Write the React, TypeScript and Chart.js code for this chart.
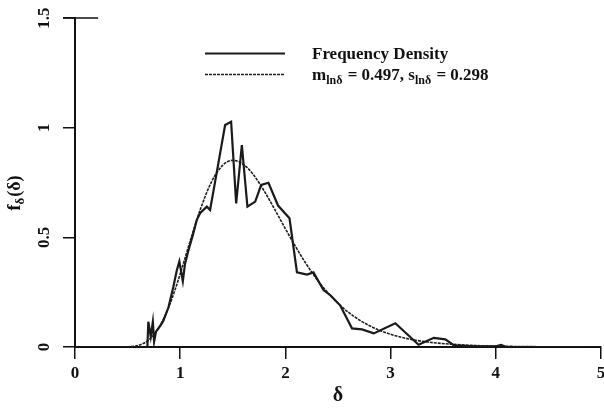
import React, { useEffect, useRef } from "react";
import { Chart, registerables } from "chart.js";

Chart.register(...registerables);

// Observed frequency density (solid line)
const freqX = [0.688, 0.697, 0.72, 0.74, 0.752, 0.77, 0.815, 0.84, 0.888, 0.935, 0.968, 0.992, 1.025, 1.046, 1.078, 1.12, 1.158, 1.189, 1.253, 1.284, 1.332, 1.427, 1.484, 1.532, 1.586, 1.639, 1.713, 1.77, 1.839, 1.93, 2.039, 2.11, 2.205, 2.267, 2.362, 2.43, 2.52, 2.633, 2.728, 2.84, 3.045, 3.266, 3.41, 3.52, 3.6, 3.8, 4.0, 4.05, 4.1];
const freqY = [0, 0.115, 0.047, 0.115, 0.024, 0.07, 0.1, 0.12, 0.18, 0.275, 0.35, 0.39, 0.3, 0.38, 0.44, 0.51, 0.58, 0.61, 0.64, 0.625, 0.754, 1.012, 1.027, 0.655, 0.921, 0.64, 0.663, 0.739, 0.749, 0.645, 0.587, 0.34, 0.33, 0.34, 0.26, 0.235, 0.19, 0.085, 0.08, 0.062, 0.108, 0.01, 0.042, 0.035, 0.008, 0.003, 0.003, 0.01, 0];

// Fitted lognormal curve (dotted line)
const fitX = [0, 0.4, 0.5, 0.6, 0.7, 0.8, 0.9, 1.0, 1.1, 1.2, 1.3, 1.4, 1.5, 1.6, 1.7, 1.8, 1.9, 2.0, 2.1, 2.2, 2.3, 2.4, 2.5, 2.6, 2.7, 2.8, 2.9, 3.0, 3.2, 3.4, 3.6, 3.8, 4.0, 4.5, 5.0];
const fitY = [0, 0, 0.001, 0.007, 0.032, 0.09, 0.193, 0.333, 0.491, 0.639, 0.755, 0.827, 0.851, 0.833, 0.783, 0.71, 0.626, 0.539, 0.455, 0.377, 0.308, 0.249, 0.199, 0.158, 0.124, 0.097, 0.075, 0.058, 0.034, 0.02, 0.012, 0.007, 0.004, 0.001, 0.0002];

const xTickValues = [0, 1, 2, 3, 4, 5];
const yTickValues = [0, 0.5, 1, 1.5];
const yTickLabels = ["0", "0.5", "1", "1.5"];

const legendMain = "Frequency Density";
const legendFitParts = ["m", "lnδ", " = 0.497, s", "lnδ", " = 0.298"];
const yTitleParts = ["f", "δ", "(δ)"];
const xTitle = "δ";

const SERIF = '"Liberation Serif", "Times New Roman", serif';

function drawSubText(ctx: CanvasRenderingContext2D, parts: string[], x: number, y: number, big: string, small: string, drop: number) {
  let cx = x;
  parts.forEach((p, i) => {
    const isSub = i % 2 === 1;
    ctx.font = isSub ? small : big;
    ctx.fillText(p, cx, isSub ? y + drop : y);
    cx += ctx.measureText(p).width + (isSub ? 1 : 0);
  });
}

const decorPlugin = {
  id: "decor",
  afterDraw(chart: any) {
    const ctx: CanvasRenderingContext2D = chart.ctx;
    const xs = chart.scales.x;
    const ys = chart.scales.y;
    ctx.save();
    // top tick crossing
    ctx.strokeStyle = "#111";
    ctx.lineWidth = 1.5;
    ctx.beginPath();
    const yt = ys.getPixelForValue(1.5);
    ctx.moveTo(xs.getPixelForValue(0) - 12, yt);
    ctx.lineTo(xs.getPixelForValue(0.22), yt);
    ctx.stroke();

    // legend
    ctx.fillStyle = "#111";
    ctx.textBaseline = "alphabetic";
    ctx.strokeStyle = "#1a1a1a";
    ctx.lineWidth = 2.2;
    ctx.setLineDash([]);
    ctx.beginPath();
    ctx.moveTo(205, 53.5);
    ctx.lineTo(285, 53.5);
    ctx.stroke();
    ctx.strokeStyle = "#1e1e1e";
    ctx.lineWidth = 1.6;
    ctx.setLineDash([3, 1]);
    ctx.beginPath();
    ctx.moveTo(205, 74.5);
    ctx.lineTo(285, 74.5);
    ctx.stroke();
    ctx.setLineDash([]);
    ctx.font = `bold 17px ${SERIF}`;
    ctx.fillText(legendMain, 312, 59);
    drawSubText(ctx, legendFitParts, 312, 80, `bold 17px ${SERIF}`, `bold 12px ${SERIF}`, 4);

    // y title
    ctx.save();
    ctx.translate(20, (ys.top + ys.bottom) / 2 + 12);
    ctx.rotate(-Math.PI / 2);
    ctx.textBaseline = "alphabetic";
    drawSubText(ctx, yTitleParts, -16, 0, `bold 18px ${SERIF}`, `bold 13px ${SERIF}`, 4);
    ctx.restore();
    ctx.restore();
  },
};

export default function App() {
  const ref = useRef<HTMLCanvasElement | null>(null);
  useEffect(() => {
    if (!ref.current) return;
    const chart = new Chart(ref.current, {
      type: "line",
      data: {
        datasets: [
          {
            label: "Frequency Density",
            data: freqX.map((x, i) => ({ x, y: freqY[i] })),
            borderColor: "#1a1a1a",
            borderWidth: 2.2,
            pointRadius: 0,
            tension: 0,
            fill: false,
          },
          {
            label: "Fit",
            data: fitX.map((x, i) => ({ x, y: fitY[i] })),
            borderColor: "#1e1e1e",
            borderWidth: 1.6,
            borderDash: [3, 1],
            pointRadius: 0,
            cubicInterpolationMode: "monotone",
            fill: false,
          },
        ],
      },
      plugins: [decorPlugin],
      options: {
        animation: false,
        responsive: false,
        devicePixelRatio: 1,
        layout: { padding: { top: 18, right: 3, left: 0, bottom: 0 } },
        plugins: { legend: { display: false }, tooltip: { enabled: false } },
        scales: {
          x: {
            type: "linear",
            min: 0,
            max: 5,
            afterBuildTicks: (s: any) => {
              s.ticks = xTickValues.map((v) => ({ value: v }));
            },
            ticks: {
              color: "#111",
              font: { family: SERIF, size: 17, weight: "bold" },
              padding: 4,
              maxRotation: 0,
              callback: (v: any) => String(v),
            },
            grid: { drawOnChartArea: false, drawTicks: true, tickLength: 12, color: "#111", lineWidth: 1.5 },
            border: { display: true, color: "#111", width: 2 },
            title: {
              display: true,
              text: xTitle,
              color: "#111",
              font: { family: SERIF, size: 20, weight: "bold" },
              padding: { top: 0, bottom: 0 },
            },
            afterFit: (s: any) => {
              s.height = 61;
              s.paddingLeft = 0;
              s.paddingRight = 0;
            },
          },
          y: {
            type: "linear",
            min: 0,
            max: 1.5,
            afterBuildTicks: (s: any) => {
              s.ticks = yTickValues.map((v) => ({ value: v }));
            },
            ticks: {
              color: "#111",
              font: { family: SERIF, size: 17, weight: "bold" },
              padding: 8,
              minRotation: 90,
              maxRotation: 90,
              crossAlign: "center",
              callback: (v: any) => {
                const i = yTickValues.indexOf(Number(v));
                return i >= 0 ? yTickLabels[i] : "";
              },
            },
            grid: { drawOnChartArea: false, drawTicks: true, tickLength: 12, color: "#111", lineWidth: 1.5 },
            border: { display: true, color: "#111", width: 2 },
            afterFit: (s: any) => {
              s.width = 75;
              s.paddingTop = 0;
              s.paddingBottom = 0;
            },
          },
        },
      },
    } as any);
    return () => chart.destroy();
  }, []);
  return (
    <div style={{ position: "fixed", left: 0, top: 0, width: 604, height: 408, background: "#fff" }}>
      <canvas ref={ref} width={604} height={408} style={{ width: 604, height: 408, display: "block" }} />
    </div>
  );
}
